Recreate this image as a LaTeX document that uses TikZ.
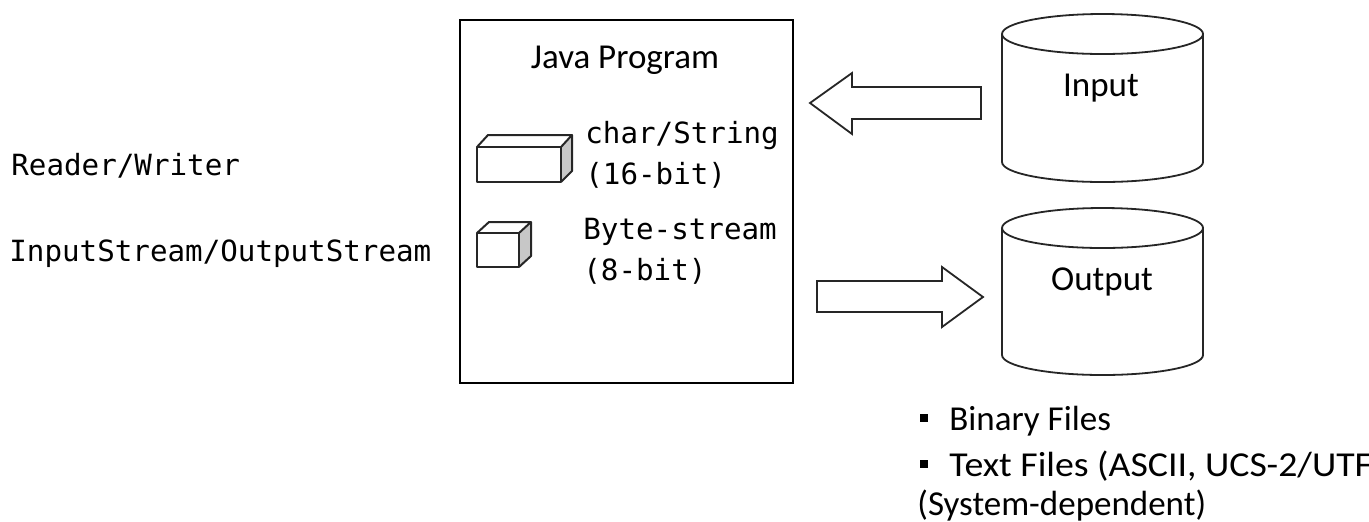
\documentclass[tikz,border=0pt]{standalone}
\usepackage{fontspec}
\setmainfont{Carlito}
\newfontfamily\monof{DejaVu Sans Mono}
\begin{document}
\begin{tikzpicture}[x=0.5pt,y=-0.5pt,
  sanslbl/.style={font=\fontsize{17.5}{20}\selectfont, inner sep=0pt},
  monolbl/.style={font=\monof\fontsize{14.6}{19.5}\selectfont, inner sep=0pt, anchor=west},
  frame/.style={draw=black, line width=1pt},
  cube/.style={draw=black!85, line width=1pt, line join=round},
  bigarrow/.style={draw=black!85, line width=0.9pt, fill=white, line join=miter},
  drum/.style={draw=black!85, line width=0.9pt, fill=white}]
\useasboundingbox (0,0) rectangle (1369,521);
\clip (0,0) rectangle (1369,521);

% left labels
\node[monolbl] (rw) at (11,166) {Reader/Writer};
\node[monolbl] (ios) at (9,254) {InputStream/OutputStream};

% program box
\node[frame, minimum width=166.5pt, minimum height=181.5pt, inner sep=0pt] (prog) at (626.5,201.5) {};
\node[sanslbl] (jp) at (625,60) {Java Program};

% big cuboid
\fill[black!22] (561,147) -- (572,135) -- (572,171) -- (561,182) -- cycle;
\draw[cube] (477,147) rectangle (561,182);
\draw[cube] (477,147) -- (488,135) -- (572,135) -- (561,147);
\draw[cube] (572,135) -- (572,171) -- (561,182);
\node[monolbl] (cs) at (585,136) {char/String};
\node[monolbl] (c16) at (585,175) {(16-bit)};

% small cuboid
\fill[black!22] (519,233) -- (531,222) -- (531,256) -- (519,267) -- cycle;
\draw[cube] (477,233) rectangle (519,267);
\draw[cube] (477,233) -- (489,222) -- (531,222) -- (519,233);
\draw[cube] (531,222) -- (531,256) -- (519,267);
\node[monolbl] (bs) at (583,232) {Byte-stream};
\node[monolbl] (b8) at (583,271) {(8-bit)};

% input arrow (pointing left)
\draw[bigarrow] (810,103) -- (852,73) -- (852,87) -- (981,87) -- (981,119) -- (852,119) -- (852,134) -- cycle;
% output arrow (pointing right)
\draw[bigarrow] (983,297) -- (942,267) -- (942,281) -- (817,281) -- (817,312) -- (942,312) -- (942,327) -- cycle;

% input cylinder
\draw[drum] (1002,34) -- (1002,162) arc[start angle=180, end angle=0, x radius=100.5, y radius=20] -- (1203,34);
\draw[drum] (1102.5,34) ellipse[x radius=100.5, y radius=20];
\node[sanslbl] (in) at (1101,88) {Input};

% output cylinder
\draw[drum] (1002,228) -- (1002,355) arc[start angle=180, end angle=0, x radius=100.5, y radius=20] -- (1203,228);
\draw[drum] (1102.5,228) ellipse[x radius=100.5, y radius=20];
\node[sanslbl] (out) at (1102,282) {Output};

% bullet list
\fill (920,414) rectangle (928,422);
\fill (920,460) rectangle (928,468);
\node[sanslbl, anchor=west] (bf) at (949,421) {Binary Files};
\node[sanslbl, anchor=west, xscale=1.08, transform shape] (tf) at (949,466) {Text Files (ASCII, UCS-2/UTF};
\node[sanslbl, anchor=west] (sd) at (917,506) {(System-dependent)};
\end{tikzpicture}
\end{document}
